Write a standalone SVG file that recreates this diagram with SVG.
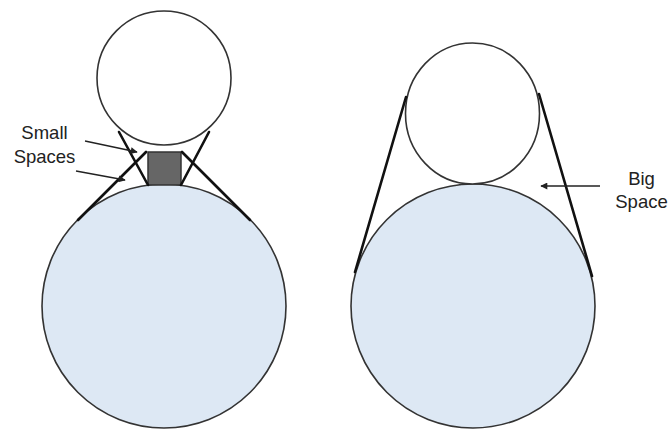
<svg xmlns="http://www.w3.org/2000/svg" width="672" height="430" viewBox="0 0 672 430">
  <defs>
    <marker id="ah" viewBox="0 0 10 10" refX="9" refY="5" markerWidth="8" markerHeight="7" markerUnits="userSpaceOnUse" orient="auto">
      <path d="M0,0 L10,5 L0,10 z" fill="#222"/>
    </marker>
    <style>
      .big { fill: #dde8f4; stroke: #333; stroke-width: 1.6; }
      .small { fill: #fff; stroke: #333; stroke-width: 1.6; }
      .belt { stroke: #111; stroke-width: 2.6; fill: none; stroke-linecap: round; }
      .ptr { stroke: #222; stroke-width: 1.3; fill: none; marker-end: url(#ah); }
      .lbl { font-family: "Liberation Sans", Arial, sans-serif; font-size: 18.5px; fill: #222; text-anchor: middle; }
    </style>
  </defs>
  <rect width="672" height="430" fill="#fff"/>

  <g id="left-big-circle">
    <circle class="big" cx="164" cy="306" r="122"/>
  </g>
  <g id="left-top-circle">
    <circle class="small" cx="164" cy="78" r="67"/>
  </g>
  <g id="spacer-block">
    <rect x="148" y="152" width="33" height="33" fill="#666" stroke="#333" stroke-width="1.5"/>
  </g>

  <g id="right-big-circle">
    <circle class="big" cx="473" cy="306" r="122"/>
  </g>
  <g id="right-top-circle">
    <ellipse class="small" cx="472.5" cy="113.5" rx="67" ry="70.5"/>
  </g>

  <g id="connectors">
    <line class="belt" x1="146" y1="152" x2="78" y2="220"/>
    <line class="belt" x1="119" y1="132" x2="148" y2="185"/>
    <line class="belt" x1="209" y1="132" x2="181" y2="185"/>
    <line class="belt" x1="182" y1="152" x2="250" y2="220"/>
    <line class="belt" x1="406" y1="97" x2="355" y2="272"/>
    <line class="belt" x1="539" y1="94" x2="592" y2="276"/>
    <line class="ptr" x1="85" y1="141" x2="137" y2="152"/>
    <line class="ptr" x1="76" y1="171" x2="125" y2="180"/>
    <line class="ptr" x1="600" y1="186" x2="541" y2="186"/>
  </g>

  <g id="label-small-spaces">
    <text class="lbl" x="44.5" y="139">Small</text>
    <text class="lbl" x="44.5" y="163">Spaces</text>
  </g>
  <g id="label-big-space">
    <text class="lbl" x="641.5" y="185">Big</text>
    <text class="lbl" x="641.5" y="208">Space</text>
  </g>
</svg>
